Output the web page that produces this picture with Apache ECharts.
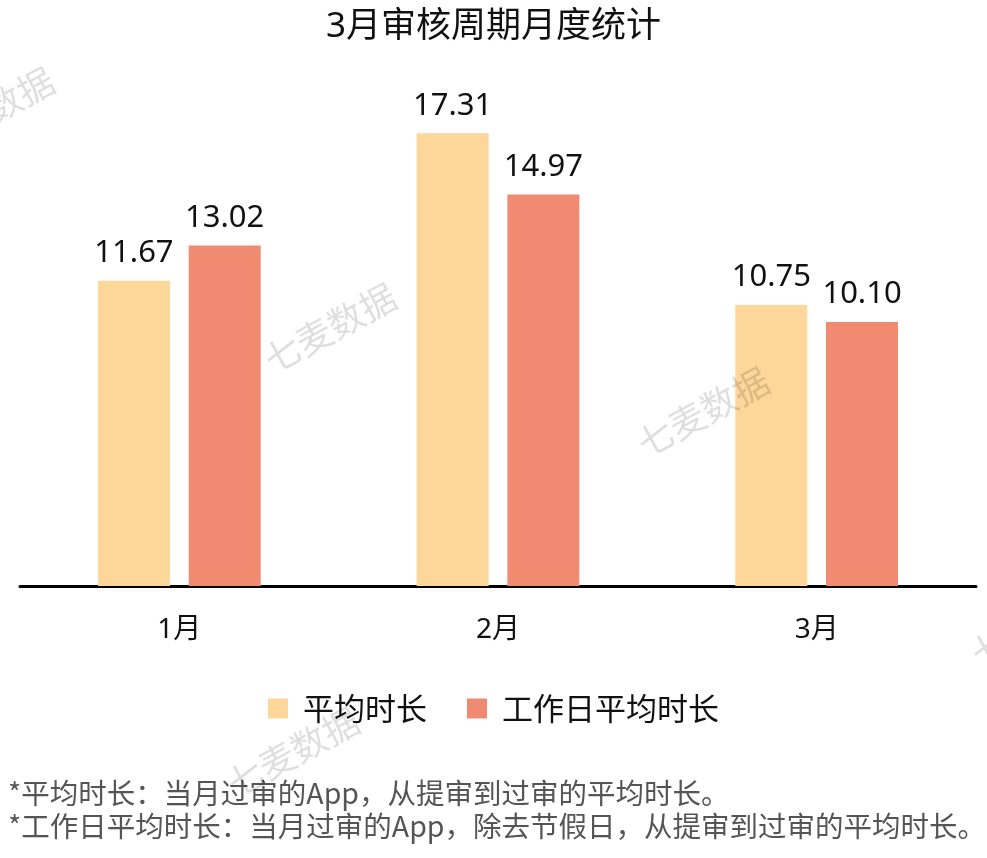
<!DOCTYPE html>
<html>
<head>
<meta charset="utf-8">
<title>3月审核周期月度统计</title>
<script src="https://cdn.jsdelivr.net/npm/echarts@6/dist/echarts.min.js"></script>
<style>
  html, body { margin: 0; padding: 0; background: #fff; }
  #chart { width: 987px; height: 858px; }
</style>
</head>
<body>
<div id="chart"></div>
<script>
// 月份
const months = ["1月", "2月", "3月"];
// 平均时长
const avgDuration = [11.67, 17.31, 10.75];
// 工作日平均时长
const workdayDuration = [13.02, 14.97, 10.1];
// 图例名称
const seriesNames = ["平均时长", "工作日平均时长"];
// 底部注释
const notes = [
  "*平均时长：当月过审的App，从提审到过审的平均时长。",
  "*工作日平均时长：当月过审的App，除去节假日，从提审到过审的平均时长。",
];

const font = '"Noto Sans CJK SC", "Noto Sans", sans-serif';
const numFont = '"Noto Sans", "Noto Sans CJK SC", sans-serif';

// 水印
const watermarkPos = [
  [-12, 112],
  [330, 328],
  [703, 412],
  [1037, 622],
  [293, 752],
];
const watermarks = watermarkPos.map((p) => ({
  type: "text",
  x: p[0],
  y: p[1],
  rotation: Math.PI / 6.3,
  z: 100,
  silent: true,
  style: {
    text: "七麦数据",
    fill: "rgba(0,0,0,0.13)",
    font: "36px " + font,
    align: "center",
    verticalAlign: "middle",
  },
}));

const chart = echarts.init(document.getElementById("chart"));
chart.setOption({
  backgroundColor: "#fff",
  animation: false,
  title: {
    text: "3月审核周期月度统计",
    left: "center",
    top: 5,
    textStyle: {
      fontFamily: numFont,
      fontSize: 35,
      fontWeight: "normal",
      color: "#111",
    },
  },
  legend: {
    data: seriesNames,
    left: "center",
    top: 688,
    icon: "rect",
    itemWidth: 20,
    itemHeight: 20,
    itemGap: 40,
    textStyle: {
      fontFamily: font,
      fontSize: 31,
      color: "#111",
      padding: [0, 0, 0, 10],
    },
  },
  grid: {
    top: 63,
    bottom: 272,
    left: 20,
    right: 11,
  },
  xAxis: {
    type: "category",
    data: months,
    axisLine: {
      lineStyle: { color: "#000", width: 3 },
    },
    axisTick: { show: false },
    axisLabel: {
      fontFamily: numFont,
      fontSize: 28,
      color: "#111",
      margin: 30,
    },
  },
  yAxis: {
    type: "value",
    min: 0,
    max: 20,
    show: false,
    splitLine: { show: false },
  },
  series: [
    {
      name: seriesNames[0],
      type: "bar",
      data: avgDuration,
      barWidth: 72,
      barGap: "26%",
      itemStyle: { color: "#FDD699" },
      label: {
        show: true,
        position: "top",
        distance: 12,
        formatter: (p) => p.value.toFixed(2),
        fontFamily: numFont,
        fontSize: 31,
        color: "#111",
      },
    },
    {
      name: seriesNames[1],
      type: "bar",
      data: workdayDuration,
      barWidth: 72,
      itemStyle: { color: "#F08A71" },
      label: {
        show: true,
        position: "top",
        distance: 12,
        formatter: (p) => p.value.toFixed(2),
        fontFamily: numFont,
        fontSize: 31,
        color: "#111",
      },
    },
  ],
  graphic: watermarks.concat(
    notes.map((t, i) => ({
      type: "text",
      left: 8,
      top: 779 + i * 33,
      style: {
        text: t,
        fill: "#555",
        font: "28.5px " + font,
      },
    }))
  ),
});
</script>
</body>
</html>
